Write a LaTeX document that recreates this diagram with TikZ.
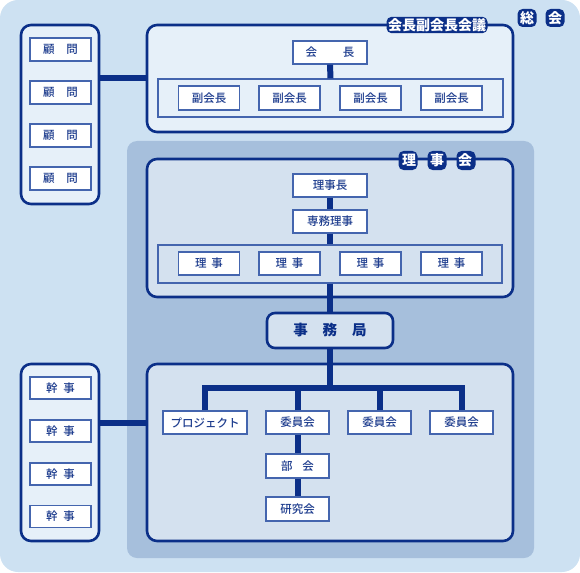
\documentclass[tikz,border=0pt]{standalone}
\usepackage{fontspec}
\setmainfont{Noto Sans CJK JP}
\newfontfamily\jpmed{Noto Sans CJK JP Medium}
\definecolor{bgout}{HTML}{CDE1F2}
\definecolor{bgdark}{HTML}{A6BFDC}
\definecolor{panelfill}{HTML}{E6F0F9}
\definecolor{innerfill}{HTML}{D4E1EF}
\definecolor{navy}{HTML}{0B2F88}
\definecolor{boxline}{HTML}{4465AE}
\definecolor{txt}{HTML}{1E3D8E}
\tikzset{
  panel/.style={draw=navy, line width=2.6pt, rounded corners=10pt, inner sep=0pt},
  item/.style={draw=boxline, line width=1.3pt, fill=white, inner sep=0pt, text=txt,
    font=\jpmed\fontsize{11.5}{11.5}\selectfont, minimum height=23pt},
  frame/.style={draw=boxline, line width=1.2pt, inner sep=0pt},
  link/.style={draw=navy, line width=6pt},
  halo/.style={fill=navy, rounded corners=5pt},
  title/.style={text=white, font=\fontsize{14}{14}\selectfont\bfseries, inner sep=1.5pt},
}
\begin{document}
\begin{tikzpicture}[x=1pt, y=-1pt]
\useasboundingbox (0,0) rectangle (580,572);
% backgrounds
\fill[bgout, rounded corners=18pt] (0,0) rectangle (580,572);
\fill[bgdark, rounded corners=10pt] (127,141) rectangle (534,558);

% panels
\node[panel, fill=panelfill, minimum width=78pt, minimum height=179pt] (adv) at (60,114.5) {};
\node[panel, fill=panelfill, minimum width=366pt, minimum height=107pt] (meet) at (330,78.5) {};
\node[panel, fill=innerfill, minimum width=366pt, minimum height=138pt] (board) at (330,228) {};
\node[panel, fill=innerfill, minimum width=366pt, minimum height=177pt] (work) at (330,452.5) {};
\node[panel, fill=panelfill, minimum width=78pt, minimum height=177pt] (staff) at (60,452.5) {};

% frames
\node[frame, minimum width=345pt, minimum height=38pt] (frameA) at (330.5,98) {};
\node[frame, minimum width=344pt, minimum height=38pt] (frameB) at (330,264) {};

% office
\node[draw=navy, line width=2.6pt, rounded corners=8pt, fill=innerfill, minimum width=126pt,
  minimum height=35pt, inner sep=0pt, text=navy, font=\fontsize{14.5}{14.5}\selectfont\bfseries]
  (office) at (330,330.5) {事\hspace{15pt}務\hspace{15pt}局};

% items: top
\node[item, minimum width=74pt] (chair) at (330,52.5) {会\hspace{26pt}長};
\node[item, minimum width=61pt, minimum height=24pt] (v1) at (209,98) {副会長};
\node[item, minimum width=61pt, minimum height=24pt] (v2) at (289.5,98) {副会長};
\node[item, minimum width=61pt, minimum height=24pt] (v3) at (370.5,98) {副会長};
\node[item, minimum width=61pt, minimum height=24pt] (v4) at (451.5,98) {副会長};

% advisers
\node[item, minimum width=61pt] (a1) at (60.5,49.5) {顧\hspace{12pt}問};
\node[item, minimum width=61pt] (a2) at (60.5,92.5) {顧\hspace{12pt}問};
\node[item, minimum width=61pt] (a3) at (60.5,135.5) {顧\hspace{12pt}問};
\node[item, minimum width=61pt] (a4) at (60.5,178.5) {顧\hspace{12pt}問};

% board
\node[item, minimum width=74pt] (pres) at (330,185.5) {理事長};
\node[item, minimum width=74pt] (exec) at (330,221.5) {専務理事};
\node[item, minimum width=61pt] (d1) at (209,263.5) {理\hspace{5pt}事};
\node[item, minimum width=61pt] (d2) at (289.5,263.5) {理\hspace{5pt}事};
\node[item, minimum width=61pt] (d3) at (370.5,263.5) {理\hspace{5pt}事};
\node[item, minimum width=61pt] (d4) at (451.5,263.5) {理\hspace{5pt}事};

% work
\node[item, minimum width=84pt] (proj) at (205,422.5) {プロジェクト};
\node[item, minimum width=63pt] (c1) at (297.5,422.5) {委員会};
\node[item, minimum width=63pt] (c2) at (379.5,422.5) {委員会};
\node[item, minimum width=63pt] (c3) at (461.5,422.5) {委員会};
\node[item, minimum width=63pt, minimum height=24pt] (sec) at (297.5,466) {部\hspace{10pt}会};
\node[item, minimum width=63pt, minimum height=24pt] (lab) at (297.5,509) {研究会};

% staff
\node[item, minimum width=61pt, minimum height=22pt] (s1) at (60.5,388) {幹\hspace{6pt}事};
\node[item, minimum width=61pt, minimum height=22pt] (s2) at (60.5,431) {幹\hspace{6pt}事};
\node[item, minimum width=61pt, minimum height=22pt] (s3) at (60.5,474) {幹\hspace{6pt}事};
\node[item, minimum width=61pt, minimum height=22pt] (s4) at (60.5,516.5) {幹\hspace{6pt}事};

% links
\coordinate (bar) at (330,388);
\draw[link] (adv.east |- frameA.north) -- (meet.west |- frameA.north);
\draw[link] (chair.south) -- (frameA.north);
\draw[link] (pres.south) -- (exec.north);
\draw[link] (exec.south) -- (frameB.north);
\draw[link] (frameB.south) -- (office.north);
\draw[link] (office.south) -- (bar);
\draw[link] (proj.north) -- (proj.north |- bar) -- (c3.north |- bar) -- (c3.north);
\draw[link] (c1.north) -- (c1.north |- bar);
\draw[link] (c2.north) -- (c2.north |- bar);
\draw[link] (c1.south) -- (sec.north);
\draw[link] (sec.south) -- (lab.north);
\draw[link] (staff.east |- proj.center) -- (work.west |- proj.center);

% titles
\node[title, halo] (tmeet) at (437,25) {会長副会長会議};
\fill[halo] (398.5,151) rectangle (417.5,170);
\fill[halo] (427.5,151) rectangle (446.5,170);
\fill[halo] (456.5,151) rectangle (475.5,170);
\node[title] (tboard) at (437,160) {理\hspace{14pt}事\hspace{14pt}会};
\fill[halo] (517.5,9) rectangle (536.5,27);
\fill[halo] (545.5,9) rectangle (564.5,27);
\node[title] (tgen) at (541,18) {総\hspace{14pt}会};
\end{tikzpicture}
\end{document}
